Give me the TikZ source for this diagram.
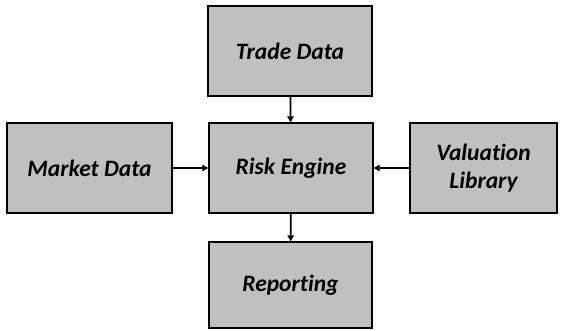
\documentclass[tikz,border=0pt]{standalone}
\usepackage{fontspec}
\setmainfont{Carlito}[Ligatures=NoCommon]
\usetikzlibrary{arrows.meta}
\definecolor{boxgray}{HTML}{C0C0C0}
\begin{document}
\begin{tikzpicture}[x=1pt,y=1pt,
  blockbox/.style={draw=black, line width=1.4pt, fill=boxgray, minimum width=#1, minimum height=90pt, inner sep=0pt, align=center, font=\fontsize{23.5}{28}\selectfont\bfseries\itshape},
  link/.style={line width=1.8pt, -{Triangle[length=6pt,width=6.5pt]}}]
\useasboundingbox (0,0) rectangle (565,331);
\fill[white] (0,0) rectangle (565,331);
\node[blockbox=164pt] (trade) at (290,280) {Trade Data};
\node[blockbox=165pt] (market) at (89.5,163) {Market Data};
\node[blockbox=164pt] (risk) at (291,163) {Risk Engine};
\node[blockbox=147pt] (val) at (483.5,163) {Valuation\\Library};
\node[blockbox=163pt, minimum height=86pt] (rep) at (290.5,46) {Reporting};
\draw[link] (trade) -- (risk);
\draw[link] (market) -- (risk);
\draw[link] (val) -- (risk);
\draw[link] (risk) -- (rep);
\end{tikzpicture}
\end{document}
